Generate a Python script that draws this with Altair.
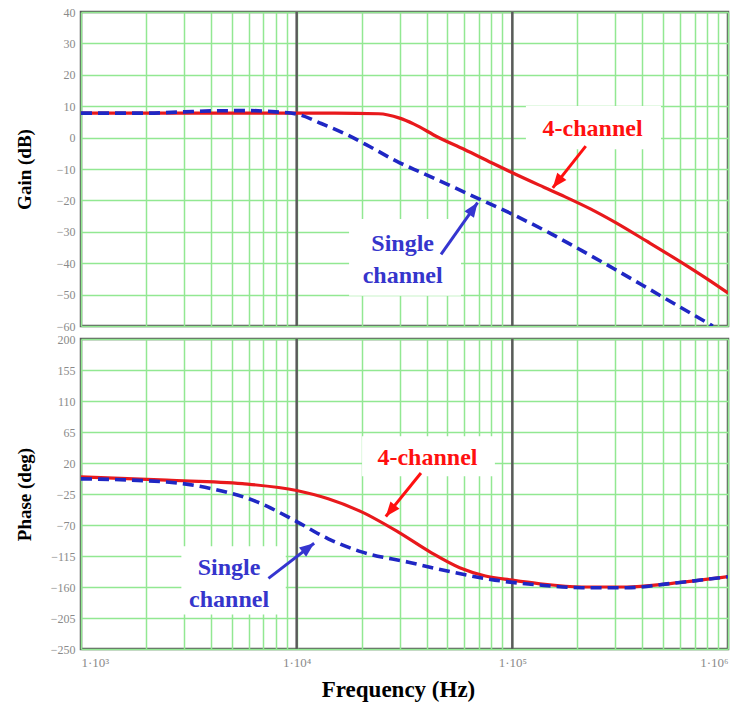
import math
import altair as alt
import pandas as pd

# ---------------- data ----------------
# Gain (dB) vs frequency (Hz)
GAIN_4CH_F = [1000, 2000, 4000, 7000, 10000, 15000, 24000, 30000, 35000, 45000, 60000,
              80000, 100000, 140000, 175000, 230000, 300000, 420000, 600000, 800000, 1000000]
GAIN_4CH_DB = [7.8, 7.8, 7.8, 7.8, 7.8, 7.8, 7.6, 6.2, 4.3, 0.2, -3.8,
               -8.0, -11.2, -15.8, -18.8, -22.7, -27.0, -33.0, -39.5, -45.0, -49.5]
GAIN_1CH_F = [1000, 2000, 3000, 4000, 6000, 8000, 10000, 13000, 17000, 22000, 29000,
              38000, 50000, 70000, 100000, 150000, 210000, 300000, 420000, 600000, 850000]
GAIN_1CH_DB = [7.8, 7.8, 8.2, 8.5, 8.6, 8.2, 7.5, 4.5, 1.0, -3.0, -7.5,
               -11.2, -14.9, -19.5, -24.4, -30.5, -36.0, -42.0, -47.8, -54.0, -60.0]

# Phase (deg) vs frequency (Hz)
PHASE_4CH_F = [1000, 2500, 5600, 10000, 14000, 20000, 29500, 42000, 57000, 75000,
               100000, 132000, 210000, 340000, 540000, 1000000]
PHASE_4CH_DEG = [0, -5, -10, -20, -32, -51, -80, -110, -132, -144,
                 -150, -155, -160, -160, -155, -145]
PHASE_1CH_F = [1000, 2500, 4000, 6500, 10000, 14000, 20000, 33000, 52000, 83000,
               132000, 210000, 340000, 540000, 1000000]
PHASE_1CH_DEG = [-3, -7.6, -17, -36, -65, -90, -109, -124, -138, -150,
                 -157, -161, -161, -155, -145]

SERIES = ["4-channel", "Single channel"]
GAIN_TICKS = [-60, -50, -40, -30, -20, -10, 0, 10, 20, 30, 40]
PHASE_TICKS = [-250, -205, -160, -115, -70, -25, 20, 65, 110, 155, 200]
X_GRID = [1000, 2000, 3000, 4000, 5000, 6000, 7000, 8000, 9000,
          10000, 20000, 30000, 40000, 50000, 60000, 70000, 80000, 90000,
          100000, 200000, 300000, 400000, 500000, 600000, 700000, 800000, 900000, 1000000]
DECADES = [10000, 100000]

# annotations (in data units)
GAIN_TEXT_F = [235500, 31000, 31000]
GAIN_TEXT_Y = [2.6, -34.0, -44.2]
GAIN_TEXT = ["4-channel", "Single", "channel"]
GAIN_TEXT_C = ["#ff1010", "#3535cc", "#3535cc"]
GAIN_BOX_F = [115600, 17500]
GAIN_BOX_F2 = [489000, 57800]
GAIN_BOX_Y = [10.1, -25.9]
GAIN_BOX_Y2 = [-3.7, -50.4]
GAIN_ARROW_F = [219000, 46700]
GAIN_ARROW_Y = [-2.7, -37.2]
GAIN_ARROW_F2 = [154000, 69000]
GAIN_ARROW_Y2 = [-16.0, -20.7]
ARROW_C = ["#ff1010", "#3535d0"]

PHASE_TEXT_F = [40400, 4860, 4860]
PHASE_TEXT_Y = [27.2, -133.0, -179.0]
PHASE_TEXT = ["4-channel", "Single", "channel"]
PHASE_BOX_F = [20100, 2920]
PHASE_BOX_F2 = [83000, 8900]
PHASE_BOX_Y = [58.8, -101.0]
PHASE_BOX_Y2 = [0.6, -200.0]
PHASE_ARROW_F = [37700, 7400]
PHASE_ARROW_Y = [5.4, -147.4]
PHASE_ARROW_F2 = [25900, 12050]
PHASE_ARROW_Y2 = [-57.6, -96.5]

# ---------------- style ----------------
W = 647
H_TOP = 314
H_BOT = 310
GREEN = "#92e892"
DARK = "#5a5a5a"
RED = "#e8191c"
BLUE = "#1f27c4"
LABEL_C = "#8a8a8a"
SERIF = "Liberation Serif"
ARROW_PATH = "M0,0L-0.4,1L0.4,1Z"

LBL_EXPR = ("abs(log(datum.value)/LN10 - round(log(datum.value)/LN10)) < 0.001 ? "
            "'1·10' + ['³','⁴','⁵','⁶'][round(log(datum.value)/LN10) - 3] : ''")


def x_enc(bottom, field="f"):
    if bottom:
        axis = alt.Axis(values=X_GRID, grid=True, gridColor=GREEN, gridWidth=1.5,
                        ticks=False, domain=False, labelExpr=LBL_EXPR, labelOverlap=False,
                        labelColor=LABEL_C, labelFont=SERIF, labelFontSize=13,
                        labelPadding=7, title="Frequency (Hz)", titleFont=SERIF,
                        titleFontSize=23, titleFontWeight="bold", titleColor="black",
                        titleX=317, titleY=40, titleBaseline="middle")
    else:
        axis = alt.Axis(values=X_GRID, grid=True, gridColor=GREEN, gridWidth=1.5,
                        ticks=False, domain=False, labels=False, title=None)
    return alt.X(f"{field}:Q", scale=alt.Scale(type="log", domain=[1000, 1000000], nice=False),
                 axis=axis)


def y_enc(bottom, field="y"):
    if bottom:
        dom, ticks, title, h = [-250, 200], PHASE_TICKS, "Phase (deg)", H_BOT
    else:
        dom, ticks, title, h = [-60, 40], GAIN_TICKS, "Gain (dB)", H_TOP
    axis = alt.Axis(values=ticks, grid=True, gridColor=GREEN, gridWidth=1.5, ticks=False,
                    domain=False, labelColor=LABEL_C, labelFont=SERIF, labelFontSize=12,
                    labelOverlap=False, labelPadding=6, format="d", title=title,
                    titleFont=SERIF, titleFontSize=19, titleFontWeight="bold",
                    titleColor="black", titleX=-57, titleY=h / 2, titleAngle=270,
                    titleBaseline="middle", titleAlign="center")
    return alt.Y(f"{field}:Q", scale=alt.Scale(domain=dom, nice=False, zero=False), axis=axis)


def screen(f, y, bottom):
    xp = (math.log10(f) - 3) * W / 3
    if bottom:
        yp = (200 - y) * H_BOT / 450
    else:
        yp = (40 - y) * H_TOP / 100
    return xp, yp


def panel(bottom, f1, v1, f2, v2, tf, ty, tt, tc, bf, bf2, by, by2, af, ay, af2, ay2):
    lines = pd.DataFrame({
        "f": f1 + f2,
        "y": v1 + v2,
        "s": [SERIES[0]] * len(f1) + [SERIES[1]] * len(f2),
    })
    texts = pd.DataFrame({"f": tf, "y": ty, "t": tt, "c": tc})
    boxes = pd.DataFrame({"f": bf, "f2": bf2, "y": by, "y2": by2})
    angles = []
    for a, b, c, d in zip(af, ay, af2, ay2):
        x0, y0 = screen(a, b, bottom)
        x1, y1 = screen(c, d, bottom)
        angles.append(math.degrees(math.atan2(x1 - x0, -(y1 - y0))) % 360)
    arrows = pd.DataFrame({"f": af, "y": ay, "f2": af2, "y2": ay2, "c": ARROW_C})
    heads = pd.DataFrame({"f": af2, "y": ay2, "c": ARROW_C, "a": angles})
    dec = pd.DataFrame({"f": DECADES})

    xe, ye = x_enc(bottom), y_enc(bottom)

    rule_dec = alt.Chart(dec).mark_rule(color=DARK, strokeWidth=2.5).encode(x=xe)
    base_lines = alt.Chart(lines)
    red = base_lines.transform_filter(alt.datum.s == SERIES[0]).mark_line(
        color=RED, strokeWidth=3.2, interpolate="monotone", clip=True).encode(x=xe, y=ye)
    blue = base_lines.transform_filter(alt.datum.s == SERIES[1]).mark_line(
        color=BLUE, strokeWidth=3.6, strokeDash=[11, 6], interpolate="monotone",
        clip=True).encode(x=xe, y=ye)
    box = alt.Chart(boxes).mark_rect(color="white", opacity=1).encode(
        x=xe, x2="f2:Q", y=ye, y2="y2:Q")
    arrow_line = alt.Chart(arrows).mark_rule(strokeWidth=3).encode(
        x=xe, x2="f2:Q", y=ye, y2="y2:Q", color=alt.Color("c:N", scale=None))
    arrow_head = alt.Chart(heads).mark_point(shape=ARROW_PATH, filled=True, size=850,
                                             opacity=1, strokeWidth=0).encode(
        x=xe, y=ye,
        color=alt.Color("c:N", scale=None),
        angle=alt.Angle("a:Q", scale=None))
    label = alt.Chart(texts).mark_text(font=SERIF, fontWeight="bold", fontSize=24,
                                       baseline="middle", align="center").encode(
        x=xe, y=ye, text="t:N", color=alt.Color("c:N", scale=None))

    return alt.layer(rule_dec, red, blue, box, arrow_line, arrow_head, label).properties(
        width=W, height=H_BOT if bottom else H_TOP)


top = panel(False, GAIN_4CH_F, GAIN_4CH_DB, GAIN_1CH_F, GAIN_1CH_DB,
            GAIN_TEXT_F, GAIN_TEXT_Y, GAIN_TEXT, GAIN_TEXT_C,
            GAIN_BOX_F, GAIN_BOX_F2, GAIN_BOX_Y, GAIN_BOX_Y2,
            GAIN_ARROW_F, GAIN_ARROW_Y, GAIN_ARROW_F2, GAIN_ARROW_Y2)
bot = panel(True, PHASE_4CH_F, PHASE_4CH_DEG, PHASE_1CH_F, PHASE_1CH_DEG,
            PHASE_TEXT_F, PHASE_TEXT_Y, PHASE_TEXT, GAIN_TEXT_C,
            PHASE_BOX_F, PHASE_BOX_F2, PHASE_BOX_Y, PHASE_BOX_Y2,
            PHASE_ARROW_F, PHASE_ARROW_Y, PHASE_ARROW_F2, PHASE_ARROW_Y2)

chart = alt.vconcat(top, bot, spacing=13, bounds="flush").properties(
    padding={"left": 13, "top": 4, "right": 0, "bottom": 0},
    background="white",
).configure_view(stroke=DARK, strokeWidth=2.5)

chart.save("out.html", embed_options={"renderer": "svg", "actions": False})
